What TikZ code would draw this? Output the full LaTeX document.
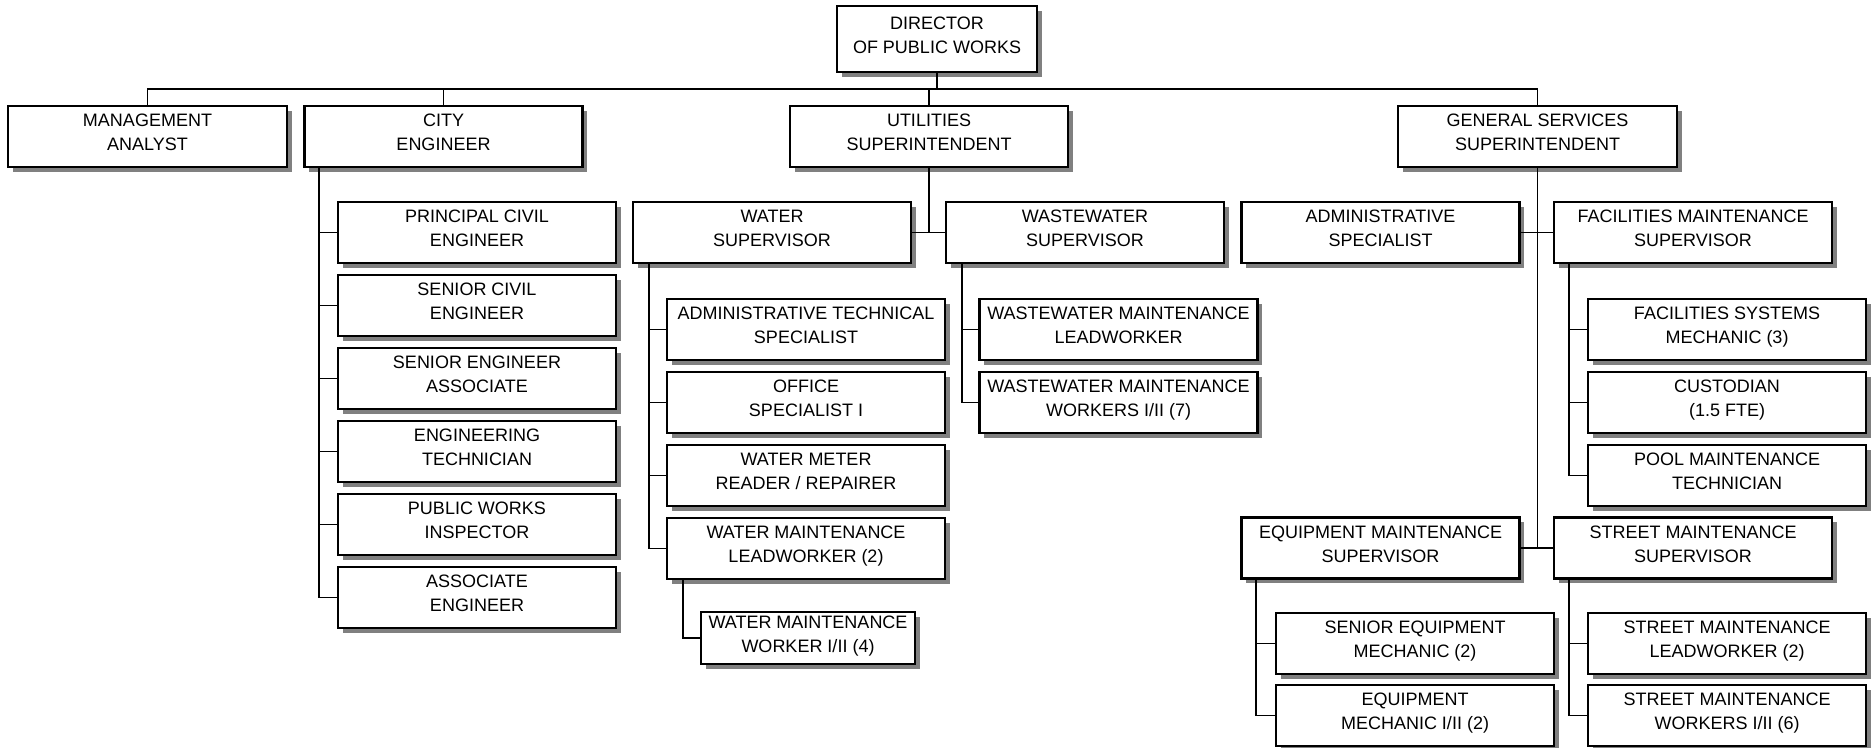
\documentclass[tikz,border=0pt]{standalone}
\usepackage{fontspec}
\setmainfont{Liberation Sans}
\usetikzlibrary{shadows}
\newcommand\orgta{\rule{0pt}{16pt}}
\newcommand\orgtb{\rule[-12pt]{0pt}{12pt}}
\newcommand\twol[2]{\orgta #1\\#2\orgtb}
\begin{document}
\begin{tikzpicture}[x=1pt,y=-1pt,
  box/.style={draw=black, line width=2.2pt, fill=white, minimum width=278pt,
    minimum height=61pt, inner sep=0pt, align=center,
    font=\fontsize{18}{24}\selectfont,
    drop shadow={shadow xshift=4.5pt, shadow yshift=-4.5pt, fill=black!50, opacity=1}},
  conn/.style={line width=1.9pt, draw=black}]
\useasboundingbox (0,0) rectangle (1873,747);

% level 0
\node[box, minimum width=200pt, minimum height=66pt] (dir) at (937,39) {\twol{DIRECTOR}{OF PUBLIC WORKS}};
% level 1
\node[box, minimum width=279pt] (mgmt) at (147.5,136.5) {\twol{MANAGEMENT}{ANALYST}};
\node[box] (city) at (443.5,136.5) {\twol{CITY}{ENGINEER}};
\node[box] (util) at (929,136.5) {\twol{UTILITIES}{SUPERINTENDENT}};
\node[box, minimum width=279pt] (gs) at (1537.5,136.5) {\twol{GENERAL SERVICES}{SUPERINTENDENT}};

% city engineer children
\node[box] (c1) at (477,232.5) {\twol{PRINCIPAL CIVIL}{ENGINEER}};
\node[box] (c2) at (477,305.5) {\twol{SENIOR CIVIL}{ENGINEER}};
\node[box] (c3) at (477,378.5) {\twol{SENIOR ENGINEER}{ASSOCIATE}};
\node[box] (c4) at (477,451.5) {\twol{ENGINEERING}{TECHNICIAN}};
\node[box] (c5) at (477,524.5) {\twol{PUBLIC WORKS}{INSPECTOR}};
\node[box] (c6) at (477,597.5) {\twol{ASSOCIATE}{ENGINEER}};

% utilities
\node[box] (water) at (772,232.5) {\twol{WATER}{SUPERVISOR}};
\node[box] (ww) at (1085,232.5) {\twol{WASTEWATER}{SUPERVISOR}};
\node[box] (w1) at (806,329.5) {\twol{ADMINISTRATIVE TECHNICAL}{SPECIALIST}};
\node[box] (w2) at (806,402.5) {\twol{OFFICE}{SPECIALIST I}};
\node[box] (w3) at (806,475.5) {\twol{WATER METER}{READER / REPAIRER}};
\node[box] (w4) at (806,548.5) {\twol{WATER MAINTENANCE}{LEADWORKER (2)}};
\node[box, minimum width=214pt, minimum height=52pt] (w5) at (808,638) {\twol{WATER MAINTENANCE}{WORKER I/II (4)}};
\node[box] (ww1) at (1118.5,329.5) {\twol{WASTEWATER MAINTENANCE}{LEADWORKER}};
\node[box] (ww2) at (1118.5,402.5) {\twol{WASTEWATER MAINTENANCE}{WORKERS I/II (7)}};

% general services
\node[box] (adm) at (1380.5,232.5) {\twol{ADMINISTRATIVE}{SPECIALIST}};
\node[box] (fac) at (1693,232.5) {\twol{FACILITIES MAINTENANCE}{SUPERVISOR}};
\node[box] (f1) at (1727,329.5) {\twol{FACILITIES SYSTEMS}{MECHANIC (3)}};
\node[box] (f2) at (1727,402.5) {\twol{CUSTODIAN}{(1.5 FTE)}};
\node[box] (f3) at (1727,475.5) {\twol{POOL MAINTENANCE}{TECHNICIAN}};
\node[box] (eq) at (1380.5,548) {\twol{EQUIPMENT MAINTENANCE}{SUPERVISOR}};
\node[box] (st) at (1693,548) {\twol{STREET MAINTENANCE}{SUPERVISOR}};
\node[box] (e1) at (1415,643.5) {\twol{SENIOR EQUIPMENT}{MECHANIC (2)}};
\node[box] (e2) at (1415,715.5) {\twol{EQUIPMENT}{MECHANIC I/II (2)}};
\node[box] (s1) at (1727,643.5) {\twol{STREET MAINTENANCE}{LEADWORKER (2)}};
\node[box] (s2) at (1727,715.5) {\twol{STREET MAINTENANCE}{WORKERS I/II (6)}};

% connectors
\coordinate (bus) at (0,89);
\draw[conn] (dir.south) -- (dir.south |- bus);
\draw[conn] (mgmt.north) -- (mgmt.north |- bus) -- (gs.north |- bus) -- (gs.north);
\draw[conn] (city.north) -- (city.north |- bus);
\draw[conn] (util.north) -- (util.north |- bus);

\foreach \c in {c1,c2,c3,c4,c5,c6}
  \draw[conn] ([xshift=15.5pt]city.south west) |- (\c.west);

\draw[conn] (util.south) |- (water.east);
\draw[conn] (util.south) |- (ww.west);
\foreach \c in {w1,w2,w3,w4}
  \draw[conn] ([xshift=17pt]water.south west) |- (\c.west);
\draw[conn] ([xshift=17pt]w4.south west) |- (w5.west);
\foreach \c in {ww1,ww2}
  \draw[conn] ([xshift=17pt]ww.south west) |- (\c.west);

\draw[conn] (gs.south) -- (gs.south |- eq.east);
\draw[conn] (adm.east) -- (fac.west);
\draw[conn] (eq.east) -- (st.west);
\foreach \c in {f1,f2,f3}
  \draw[conn] ([xshift=16pt]fac.south west) |- (\c.west);
\foreach \c in {e1,e2}
  \draw[conn] ([xshift=16pt]eq.south west) |- (\c.west);
\foreach \c in {s1,s2}
  \draw[conn] ([xshift=16pt]st.south west) |- (\c.west);
\end{tikzpicture}
\end{document}
